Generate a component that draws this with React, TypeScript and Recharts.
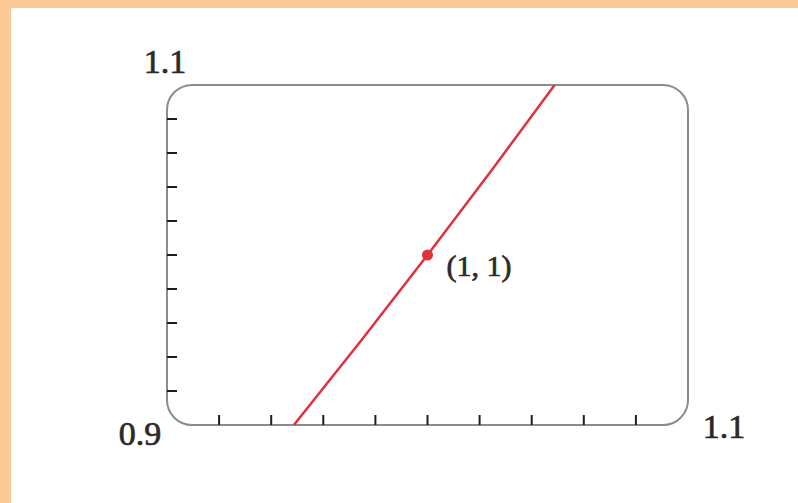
import { ComposedChart, Line, XAxis, YAxis, ReferenceArea, ReferenceDot } from "recharts";

// points read along the red curve through (1, 1)
const curveX = [0.9487, 0.9747, 1, 1.0247, 1.0488];
const curveY = [0.9, 0.95, 1, 1.05, 1.1];

const xRange = [0.9, 1.1];
const yRange = [0.9, 1.1];
const xTicks = [0.92, 0.94, 0.96, 0.98, 1, 1.02, 1.04, 1.06, 1.08];
const yTicks = [0.92, 0.94, 0.96, 0.98, 1, 1.02, 1.04, 1.06, 1.08];

const markX = 1;
const markY = 1;
const markText = "(1, 1)";
const rangeText = ["0.9", "1.1"];

const data = curveX.map((x, i) => ({ x, y: curveY[i] }));

const FONT = "Liberation Serif, Times New Roman, serif";
const RED = "#e0313c";
const TICK = 10;

const textAt =
  (text: string, dx: number, dy: number, anchor: "start" | "middle" | "end", size: number) =>
  (props: any) => {
    const vb = props.viewBox || {};
    return (
      <text
        x={(vb.x ?? 0) + dx}
        y={(vb.y ?? 0) + dy}
        textAnchor={anchor}
        style={{ fontFamily: FONT }}
        fontSize={size}
        fill="#2a2a2a"
        stroke="#2a2a2a"
        strokeWidth={0.7}
      >
        {text}
      </text>
    );
  };

// ticks point inward from the frame
const xTick = (p: any) => (
  <line x1={p.x} x2={p.x} y1={p.y} y2={p.y - TICK} stroke="#1e1e1e" strokeWidth={2} />
);
const yTick = (p: any) => (
  <line x1={p.x} x2={p.x + TICK} y1={p.y} y2={p.y} stroke="#1e1e1e" strokeWidth={2} />
);

const roundedBox = (p: any) => (
  <rect x={p.x} y={p.y} width={p.width} height={p.height} rx={25} ry={25} fill="none" stroke="#8c8c8c" strokeWidth={2} />
);

export default function App() {
  return (
    <div style={{ position: "absolute", left: 0, top: 0, width: 798, height: 503, background: "#fec996" }}>
      <div style={{ position: "absolute", left: 11, top: 8, width: 787, height: 495, background: "#ffffff" }}>
        <ComposedChart width={787} height={495} data={data} margin={{ top: 77, left: 156, right: 110, bottom: 78 }}>
          <XAxis
            type="number"
            dataKey="x"
            domain={xRange}
            ticks={xTicks}
            allowDataOverflow
            mirror
            height={1}
            axisLine={false}
            tickLine={false}
            tickSize={0}
            tickMargin={0}
            tick={xTick}
          />
          <YAxis
            type="number"
            dataKey="y"
            domain={yRange}
            ticks={yTicks}
            allowDataOverflow
            mirror
            width={1}
            axisLine={false}
            tickLine={false}
            tickSize={0}
            tickMargin={0}
            tick={yTick}
          />
          <ReferenceArea x1={xRange[0]} x2={xRange[1]} y1={yRange[0]} y2={yRange[1]} shape={roundedBox} />
          <Line type="linear" dataKey="y" stroke={RED} strokeWidth={2.5} dot={false} isAnimationActive={false} />
          <ReferenceDot x={xRange[0]} y={yRange[1]} r={0} label={textAt(rangeText[1], -2, -12, "middle", 34)} />
          <ReferenceDot x={xRange[0]} y={yRange[0]} r={0} label={textAt(rangeText[0], -27, 20, "middle", 34)} />
          <ReferenceDot x={xRange[1]} y={yRange[0]} r={0} label={textAt(rangeText[1], 36, 13, "middle", 34)} />
          <ReferenceDot
            x={markX}
            y={markY}
            r={5.5}
            fill={RED}
            stroke="none"
            label={textAt(markText, 24.5, 26.5, "start", 30)}
          />
        </ComposedChart>
      </div>
    </div>
  );
}
